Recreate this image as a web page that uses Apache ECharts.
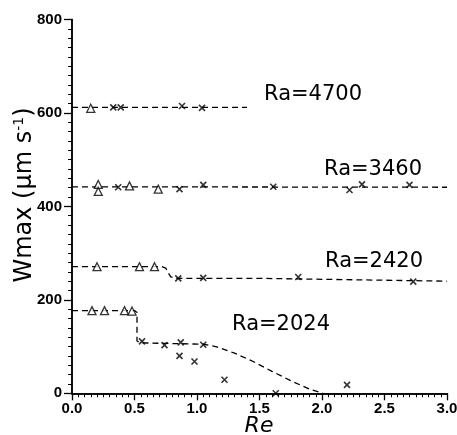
<!DOCTYPE html>
<html><head><meta charset="utf-8">
<script src="https://cdn.jsdelivr.net/npm/echarts@6/dist/echarts.min.js"></script>
<style>html,body{margin:0;padding:0;background:#fff}#c{width:457px;height:435px}</style>
</head><body><div id="c"></div>
<script>
// ---- data (Re, Wmax) ----
const xTicks = [0, 0.5, 1.0, 1.5, 2.0, 2.5, 3.0];
const yTicks = [0, 200, 400, 600, 800];
const seriesLabels = ['Ra=4700', 'Ra=3460', 'Ra=2420', 'Ra=2024'];

const line4700 = [[0, 612], [1.40, 612]];
const tri4700 = [[0.15, 610]];
const cross4700 = [[0.33, 612], [0.39, 612], [0.88, 615], [1.04, 611]];

const line3460 = [[0, 442], [3.0, 441]];
const tri3460 = [[0.21, 447], [0.21, 432], [0.46, 444], [0.69, 437]];
const cross3460 = [[0.37, 441], [0.86, 437], [1.05, 446], [1.61, 442], [2.22, 435], [2.32, 447], [2.70, 446]];

const line2420 = [[0, 271], [0.72, 271], [0.75, 268], [0.77, 258], [0.79, 249], [0.83, 246], [1.5, 246], [3.0, 240]];
const tri2420 = [[0.20, 271], [0.54, 271], [0.66, 271]];
const cross2420 = [[0.85, 246], [1.05, 247], [1.81, 249], [2.73, 239]];

const line2024 = [[0, 177], [0.50, 177], [0.52, 173], [0.52, 112], [0.55, 108], [1.05, 105], [1.15, 100], [1.30, 86], [1.45, 68], [1.60, 47], [1.75, 27], [1.90, 9], [2.01, 0]];
const tri2024 = [[0.16, 177], [0.26, 177], [0.42, 177], [0.48, 176]];
const cross2024 = [[0.56, 111], [0.74, 103], [0.87, 109], [0.86, 80], [0.98, 68], [1.05, 104], [1.22, 29], [1.63, 0], [2.20, 18]];

// ---- chart ----
const crossPath = 'path://M0,0L10,10M10,0L0,10';
function lineS(d) {
  return { type: 'line', data: d, showSymbol: false, symbol: 'none', silent: true,
    lineStyle: { color: '#000', width: 1.3, type: [6, 4] }, z: 2 };
}
function triS(d) {
  return { type: 'scatter', data: d, symbol: 'triangle', symbolSize: 8,
    itemStyle: { color: '#fff', borderColor: '#000', borderWidth: 1.3 }, z: 3 };
}
function crossS(d) {
  return { type: 'scatter', data: d, symbol: crossPath, symbolSize: 6,
    itemStyle: { color: 'none', borderColor: '#000', borderWidth: 1.6 }, z: 3 };
}
const chart = echarts.init(document.getElementById('c'), null, { renderer: 'canvas' });
const tickFont = { color: '#000', fontFamily: 'Liberation Sans', fontWeight: 'bold', fontSize: 15 };
const minorTickStyle = { show: true, inside: false, length: 4, lineStyle: { color: '#000', width: 1 } };
const minorLine = { show: true, onZero: false, lineStyle: { color: '#000', width: 1.5 } };
function raText(i, x, y) {
  return { type: 'text', x: x, y: y, style: { text: seriesLabels[i], align: 'left', verticalAlign: 'middle',
    fontFamily: 'DejaVu Sans', fontSize: 21, fill: '#000', letterSpacing: 1 } };
}
chart.setOption({
  animation: false,
  grid: { left: 72, right: 10, top: 19.5, bottom: 41.7, containLabel: false, outerBoundsMode: 'none' },
  xAxis: [{
    type: 'value', min: 0, max: 3.0, interval: 0.5,
    axisLine: { onZero: false, lineStyle: { color: '#000', width: 1.5 } },
    axisTick: { show: true, inside: false, length: 7, lineStyle: { color: '#000', width: 1.3 } },
    splitLine: { show: false },
    axisLabel: Object.assign({ margin: 8, formatter: v => xTicks.indexOf(v) >= 0 ? v.toFixed(1) : '' }, tickFont)
  }, {
    type: 'value', min: 0, max: 300, interval: 5, position: 'bottom', offset: 0,
    axisLine: minorLine, axisTick: minorTickStyle, axisLabel: { show: false }, splitLine: { show: false }
  }],
  yAxis: [{
    type: 'value', min: 0, max: 800, interval: 200,
    axisLine: { show: true, onZero: false, lineStyle: { color: '#000', width: 1.5 } },
    axisTick: { show: true, inside: false, length: 8, lineStyle: { color: '#000', width: 1.3 } },
    splitLine: { show: false },
    axisLabel: Object.assign({ margin: 10, formatter: v => yTicks.indexOf(v) >= 0 ? String(v) : '' }, tickFont)
  }, {
    type: 'value', min: 0, max: 800, interval: 20, position: 'left', offset: 0,
    axisLine: minorLine, axisTick: minorTickStyle, axisLabel: { show: false }, splitLine: { show: false }
  }],
  graphic: [
    { type: 'text', x: 25, y: 195, rotation: Math.PI / 2,
      style: { text: 'Wmax (μm s{sup|-1})', align: 'center', verticalAlign: 'middle',
        fontFamily: 'DejaVu Sans', fontSize: 24, fill: '#000',
        rich: { sup: { fontSize: 14, verticalAlign: 'top', padding: [0, 0, 12, 0], fontFamily: 'DejaVu Sans', fill: '#000', color: '#000' } } } },
    { type: 'text', x: 259, y: 415, style: { text: 'Re', align: 'center', verticalAlign: 'top',
        fontFamily: 'DejaVu Sans', fontStyle: 'italic', fontSize: 22, fill: '#000' } },
    raText(0, 264, 95),
    raText(1, 324, 170),
    raText(2, 325, 262),
    raText(3, 232, 325)
  ],
  series: [
    lineS(line4700), triS(tri4700), crossS(cross4700),
    lineS(line3460), triS(tri3460), crossS(cross3460),
    lineS(line2420), triS(tri2420), crossS(cross2420),
    lineS(line2024), triS(tri2024), crossS(cross2024)
  ]
});
</script></body></html>
